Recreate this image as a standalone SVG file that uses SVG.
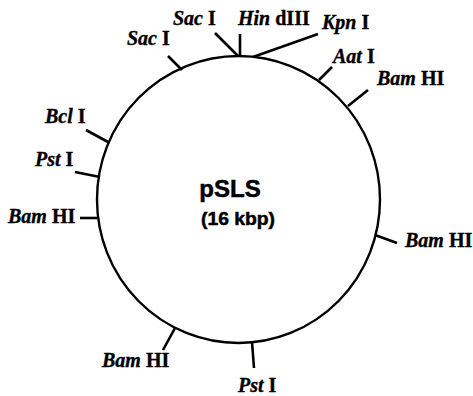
<svg xmlns="http://www.w3.org/2000/svg" width="473" height="396" viewBox="0 0 473 396">
<style>
.lbl{font-family:"Liberation Serif","Times New Roman",serif;font-size:20px;font-weight:bold;fill:#000;stroke:#000;stroke-width:0.35}
.it{font-style:italic}
.tick{stroke:#000;stroke-width:2.6;fill:none;stroke-linecap:butt}
.ring{stroke:#000;stroke-width:2.4;fill:none}
.ctr{font-family:"Liberation Sans",Arial,sans-serif;font-weight:bold;fill:#000;stroke:#000;stroke-width:0.5;text-anchor:middle}
</style>
<rect width="473" height="396" fill="#fff"/>
<g id="plasmid">
<ellipse class="ring" cx="238.5" cy="199.5" rx="141.5" ry="143.5"/>
<text class="ctr" x="230" y="197" font-size="24">pSLS</text>
<text class="ctr" x="238" y="225" font-size="18" textLength="74" lengthAdjust="spacingAndGlyphs">(16 kbp)</text>
</g>
<g id="connectors">
<line class="tick" x1="168" y1="56" x2="182" y2="70"/>
<line class="tick" x1="215" y1="33" x2="238" y2="56"/>
<line class="tick" x1="240" y1="34" x2="240" y2="57"/>
<line class="tick" x1="253" y1="57" x2="318" y2="34"/>
<line class="tick" x1="332" y1="67" x2="319" y2="80"/>
<line class="tick" x1="368" y1="90" x2="348" y2="106"/>
<line class="tick" x1="375" y1="235" x2="397" y2="243"/>
<line class="tick" x1="252" y1="342" x2="254" y2="368"/>
<line class="tick" x1="175" y1="328" x2="163" y2="350"/>
<line class="tick" x1="80" y1="218" x2="98" y2="218"/>
<line class="tick" x1="75" y1="172" x2="100" y2="177"/>
<line class="tick" x1="86" y1="130" x2="108" y2="142"/>
</g>
<g id="site-saci-1"><text class="lbl" x="127" y="45"><tspan class="it">Sac</tspan> I</text></g>
<g id="site-saci-2"><text class="lbl" x="173" y="25"><tspan class="it">Sac</tspan> I</text></g>
<g id="site-hindiii"><text class="lbl" x="238" y="25"><tspan class="it">Hin</tspan> dIII</text></g>
<g id="site-kpni"><text class="lbl" x="322" y="29"><tspan class="it">Kpn</tspan> I</text></g>
<g id="site-aati"><text class="lbl" x="333" y="63"><tspan class="it">Aat</tspan> I</text></g>
<g id="site-bamhi-1"><text class="lbl" x="377" y="85"><tspan class="it">Bam</tspan> HI</text></g>
<g id="site-bamhi-2"><text class="lbl" x="405" y="247"><tspan class="it">Bam</tspan> HI</text></g>
<g id="site-psti-1"><text class="lbl" x="238" y="392"><tspan class="it">Pst</tspan> I</text></g>
<g id="site-bamhi-3"><text class="lbl" x="102" y="367"><tspan class="it">Bam</tspan> HI</text></g>
<g id="site-bamhi-4"><text class="lbl" x="8" y="223"><tspan class="it">Bam</tspan> HI</text></g>
<g id="site-psti-2"><text class="lbl" x="35" y="166"><tspan class="it">Pst</tspan> I</text></g>
<g id="site-bcli"><text class="lbl" x="45" y="123"><tspan class="it">Bcl</tspan> I</text></g>
</svg>
